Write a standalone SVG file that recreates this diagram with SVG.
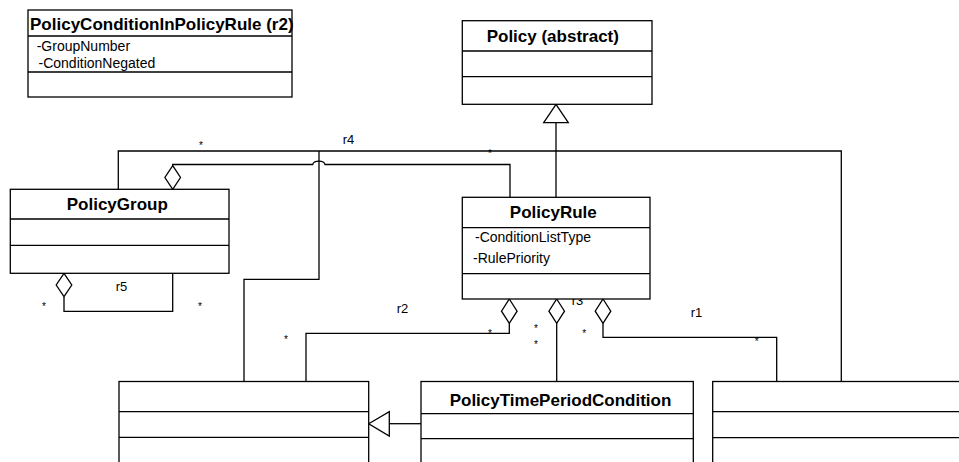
<svg xmlns="http://www.w3.org/2000/svg" width="959" height="462" viewBox="0 0 959 462">
<style>
.box{fill:#fff;stroke:#000;stroke-width:1.3}
.ln{fill:none;stroke:#000;stroke-width:1.3}
.hd{fill:#fff;stroke:#000;stroke-width:1.3}
text{font-family:"Liberation Sans",Arial,Helvetica,sans-serif;fill:#000}
.t{font-size:17px;font-weight:bold;text-anchor:middle}
.a{font-size:14px}
.l{font-size:13px}
.s{font-size:10px;text-anchor:middle}
</style>
<rect width="959" height="462" fill="#fff"/>
<g id="connectors">
  <!-- r4 -->
  <path class="ln" d="M118.3,189.3 V151 H841.3 V381.5"/>
  <path class="ln" d="M319,151 V279.3 H244 V381.5"/>
  <!-- PolicyGroup - PolicyRule aggregation with hop -->
  <path class="ln" d="M172.7,165.7 V164.5 H312.7 A6.2,3.8 0 0 1 325,164.5 H510 V197.3"/>
  <polygon class="hd" points="172.7,165.7 180.5,177.5 172.7,189.3 164.9,177.5"/>
  <!-- r5 -->
  <path class="ln" d="M64,296.7 V311.3 H172.7 V273.3"/>
  <polygon class="hd" points="64,273.3 71.8,285 64,296.7 56.2,285"/>
  <!-- generalization Policy -->
  <path class="ln" d="M556,122.7 V197.3"/>
  <polygon class="hd" points="556,104.3 568.3,122.7 543.7,122.7"/>
  <!-- r2 -->
  <path class="ln" d="M509.3,323.3 V333.3 H306 V381.5"/>
  <polygon class="hd" points="509.3,299 517.1,311.2 509.3,323.3 501.5,311.2"/>
  <!-- r3 -->
  <path class="ln" d="M556.7,323.3 V381.5"/>
  <polygon class="hd" points="556.7,299 564.5,311.2 556.7,323.3 548.9,311.2"/>
  <!-- r1 -->
  <path class="ln" d="M603,323.3 V337.3 H776.7 V381.5"/>
  <polygon class="hd" points="603,299 610.8,311.2 603,323.3 595.2,311.2"/>
  <!-- generalization to left bottom box -->
  <path class="ln" d="M389.3,423.7 H421"/>
  <polygon class="hd" points="368.7,423.7 389.3,411.7 389.3,436"/>
  <!-- labels -->
  <text class="l" x="342.7" y="144.3">r4</text>
  <text class="l" x="115.7" y="290.7">r5</text>
  <text class="l" x="396.7" y="312.7">r2</text>
  <text class="l" x="571.7" y="305">r3</text>
  <text class="l" x="690.7" y="316.7">r1</text>
  <!-- multiplicities -->
  <text class="s" x="201" y="148.7">*</text>
  <text class="s" x="490" y="156.7">*</text>
  <text class="s" x="44" y="309.7">*</text>
  <text class="s" x="200" y="309.7">*</text>
  <text class="s" x="286" y="343">*</text>
  <text class="s" x="490" y="336.7">*</text>
  <text class="s" x="536" y="332.4">*</text>
  <text class="s" x="536" y="348">*</text>
  <text class="s" x="584.3" y="336.7">*</text>
  <text class="s" x="756.7" y="345">*</text>
</g>
<g id="PolicyConditionInPolicyRule">
  <rect class="box" x="28" y="10" width="264" height="87"/>
  <path class="ln" d="M28,36 H292 M28,72 H292"/>
  <text class="t" x="161.8" y="30">PolicyConditionInPolicyRule (r2)</text>
  <text class="a" x="36.7" y="50.7">-GroupNumber</text>
  <text class="a" x="38.5" y="67.7">-ConditionNegated</text>
</g>
<g id="Policy">
  <rect class="box" x="462.3" y="20.7" width="189.7" height="83.6"/>
  <path class="ln" d="M462.3,51 H652 M462.3,76.7 H652"/>
  <text class="t" x="552.8" y="42">Policy (abstract)</text>
</g>
<g id="PolicyGroup">
  <rect class="box" x="10.3" y="189.3" width="218.7" height="84"/>
  <path class="ln" d="M10.3,219 H229 M10.3,245.3 H229"/>
  <text class="t" x="117.3" y="210">PolicyGroup</text>
</g>
<g id="PolicyRule">
  <rect class="box" x="462.3" y="197.3" width="187.7" height="101.7"/>
  <path class="ln" d="M462.3,227.7 H650 M462.3,273.7 H650"/>
  <text class="t" x="553.3" y="217.7">PolicyRule</text>
  <text class="a" x="475" y="242.3">-ConditionListType</text>
  <text class="a" x="473" y="262.7">-RulePriority</text>
</g>
<g id="LeftCondition">
  <rect class="box" x="119" y="381.5" width="249.7" height="100"/>
  <path class="ln" d="M119,411.7 H368.7 M119,437.3 H368.7"/>
</g>
<g id="PolicyTimePeriodCondition">
  <rect class="box" x="421" y="381.5" width="272.3" height="100"/>
  <path class="ln" d="M421,413.7 H693.3 M421,438.7 H693.3"/>
  <text class="t" x="560.5" y="405.7">PolicyTimePeriodCondition</text>
</g>
<g id="RightAction">
  <rect class="box" x="712.7" y="381.5" width="260" height="100"/>
  <path class="ln" d="M712.7,411.7 H972.7 M712.7,437.7 H972.7"/>
</g>
</svg>
